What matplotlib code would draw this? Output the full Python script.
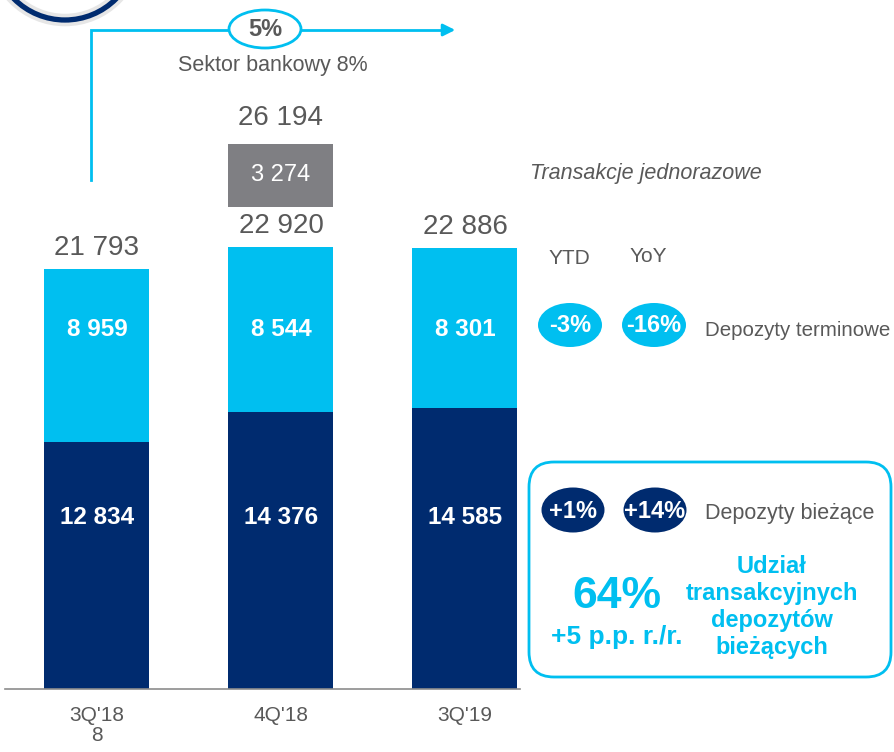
from matplotlib import pyplot as plt
from matplotlib.patches import Ellipse, FancyBboxPatch, Circle

plt.rcParams['font.family'] = ['Liberation Sans', 'DejaVu Sans']

# Data
quarters = ["3Q'18\n8", "4Q'18", "3Q'19"]
current_dep = [12834, 14376, 14585]    # Depozyty bieżące
term_dep = [8959, 8544, 8301]          # Depozyty terminowe
one_off = [0, 3274, 0]                 # Transakcje jednorazowe
ytd_yoy_term = ["-3%", "-16%"]
ytd_yoy_current = ["+1%", "+14%"]
growth_label = "5%"
sector_label = "Sektor bankowy 8%"
share_value = "64%"
share_change = "+5 p.p. r./r."

NAVY = "#002B6F"
CYAN = "#00BFF0"
GREY = "#7F7F83"
TXT = "#595959"

totals = [c + t for c, t in zip(current_dep, term_dep)]


def fmt(v):
    return f"{v:,}".replace(",", " ")


fig = plt.figure(figsize=(8.94, 7.52), dpi=100)

# bars axes: baseline at 689 px from top
ax = fig.add_axes([0, 63 / 752, 1, 689 / 752])
ax.set_ylim(0, 35755)
ax.set_xlim(-0.527, 4.332)
x = list(range(len(quarters)))
w = 0.571

ax.bar(x, current_dep, width=w, color=NAVY, zorder=2)
ax.bar(x, term_dep, width=w, bottom=current_dep, color=CYAN, zorder=2)

for i in x:
    ax.annotate(fmt(totals[i]), (i, totals[i]), xytext=(0, 15), textcoords="offset points",
                ha="center", va="center", fontsize=20, color=TXT)
    ax.text(i, 18630, fmt(term_dep[i]), ha="center", va="center", fontsize=17.5,
            fontweight="bold", color="white", zorder=3)
    ax.text(i, 8900, fmt(current_dep[i]), ha="center", va="center", fontsize=17.5,
            fontweight="bold", color="white", zorder=3)
    if one_off[i]:
        gap = 2093
        ax.bar(i, one_off[i], width=w, bottom=totals[i] + gap, color=GREY, zorder=2)
        ax.text(i, totals[i] + gap + one_off[i] / 2, fmt(one_off[i]), ha="center", va="center",
                fontsize=17, color="white", zorder=3)
        ax.annotate(fmt(totals[i] + one_off[i]), (i, totals[i] + gap + one_off[i]), xytext=(0, 19),
                    textcoords="offset points", ha="center", va="center", fontsize=20, color=TXT)

ax.set_xticks(x)
ax.set_xticklabels(quarters, fontsize=15, color=TXT, linespacing=1.1)
ax.tick_params(axis="x", length=0, pad=12)
ax.set_yticks([])
for s in ax.spines.values():
    s.set_visible(False)
ax.patch.set_alpha(0)

# overlay in pixel coordinates
ov = fig.add_axes([0, 0, 1, 1])
ov.set_xlim(0, 894)
ov.set_ylim(752, 0)
ov.axis("off")

ov.plot([5, 520], [689, 689], color="#8C8C8C", lw=1.2)

# logo arc top-left
ov.add_patch(Circle((65, -52), 72, fill=False, ec="#E6E6E6", lw=9))
ov.add_patch(Circle((65, -52), 72, fill=False, ec=NAVY, lw=3.8))

# growth arrow
ov.plot([91, 91, 445], [180, 30, 30], color=CYAN, lw=2, solid_joinstyle="miter")
ov.annotate("", xy=(458, 30), xytext=(440, 30),
            arrowprops=dict(arrowstyle="-|>", color=CYAN, lw=2, mutation_scale=18))
ov.add_patch(Ellipse((265, 29), 72, 38, fc="white", ec=CYAN, lw=2, zorder=3))
ov.text(265, 29, growth_label, ha="center", va="center", fontsize=17, fontweight="bold",
        color=TXT, zorder=4)
ov.text(273, 65, sector_label, ha="center", va="center", fontsize=15.5, color=TXT)

ov.text(530, 173, "Transakcje jednorazowe", ha="left", va="center", fontsize=15.5,
        style="italic", color=TXT)
ov.text(569, 259, "YTD", ha="center", va="center", fontsize=15, color=TXT)
ov.text(648, 256, "YoY", ha="center", va="center", fontsize=15, color=TXT)

for cx, lab in zip([570, 654], ytd_yoy_term):
    ov.add_patch(Ellipse((cx, 325), 64, 44, fc=CYAN, ec="none"))
    ov.text(cx, 326, lab, ha="center", va="center", fontsize=17, fontweight="bold", color="white")
ov.text(705, 330, "Depozyty terminowe", ha="left", va="center", fontsize=14.8, color=TXT)

ov.add_patch(FancyBboxPatch((529, 462), 362, 215, boxstyle="round,pad=0,rounding_size=25",
                            fc="none", ec=CYAN, lw=2))
for cx, lab in zip([573, 655], ytd_yoy_current):
    ov.add_patch(Ellipse((cx, 510), 63, 45, fc=NAVY, ec="none"))
    ov.text(cx, 511, lab, ha="center", va="center", fontsize=17, fontweight="bold", color="white")
ov.text(705, 514, "Depozyty bieżące", ha="left", va="center", fontsize=15.5, color=TXT)

ov.text(617, 597, share_value, ha="center", va="center", fontsize=32, fontweight="bold", color=CYAN)
ov.text(617, 637, share_change, ha="center", va="center", fontsize=19, fontweight="bold", color=CYAN)
ov.text(772, 607, "Udział\ntransakcyjnych\ndepozytów\nbieżących", ha="center", va="center",
        fontsize=17, fontweight="bold", color=CYAN, linespacing=1.24)

fig.savefig("out.png", dpi=100)
